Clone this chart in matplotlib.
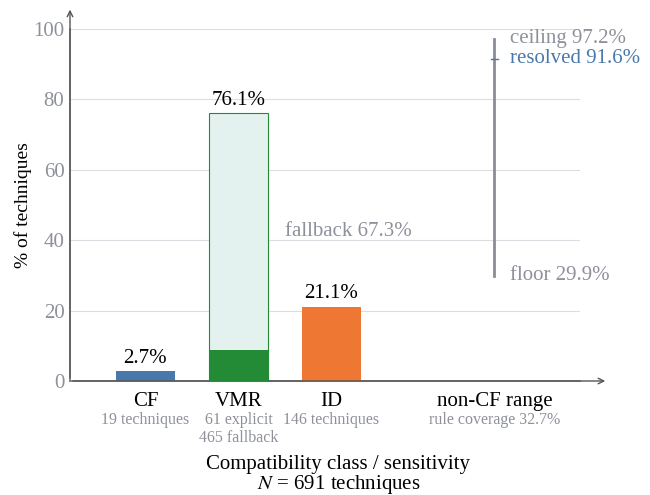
import numpy as np
import matplotlib
matplotlib.use('Agg')
import matplotlib.pyplot as plt

plt.rcParams['font.family'] = ['Liberation Serif', 'DejaVu Serif']
plt.rcParams['mathtext.fontset'] = 'stix'

N = 691
classes = ['CF', 'VMR', 'ID']
counts = [19, 61, 146]
fallback = 465
subs = ['19 techniques', '61 explicit\n465 fallback', '146 techniques']
floor_v, resolved_v, ceiling_v = 29.9, 91.6, 97.2
rule_cov = 32.7

pct = [c / N * 100 for c in counts]
fb_pct = fallback / N * 100
vmr_total = pct[1] + fb_pct

gray_txt = '#8e919b'
blue = '#4a78ab'
green = '#238a35'
orange = '#ee7733'
light = '#e3f2ee'

fig = plt.figure(figsize=(6.5, 4.95), dpi=100)
ax = fig.add_axes([70/650, 114/495, 510/650, 352/495])
ax.set_xlim(-0.81, 4.67)
ax.set_ylim(0, 100)

x = np.arange(3)
w = 0.63
ax.bar(0, pct[0], w, color=blue, zorder=3)
ax.bar(1, vmr_total, w, color=light, edgecolor=green, linewidth=0.8, zorder=3)
ax.bar(1, pct[1], w, color=green, zorder=4)
ax.bar(2, pct[2], w, color=orange, zorder=3)

tops = [pct[0], vmr_total, pct[2]]
for xi, t in zip(x, tops):
    ax.annotate('%.1f%%' % t, (xi, t), xytext=(0, 2.5), textcoords='offset points',
                ha='center', va='bottom', fontsize=15, color='black')

ax.text(1.5, pct[1] + fb_pct / 2, 'fallback %.1f%%' % fb_pct, color=gray_txt,
        fontsize=15, ha='left', va='center')

# non-CF sensitivity range
xr = 3.75
ax.plot([xr, xr], [floor_v, ceiling_v], color='#8a8d99', lw=2, zorder=3)
ax.plot([xr - 0.04, xr + 0.04], [resolved_v, resolved_v], color=blue, lw=1, zorder=4)
ax.text(xr + 0.17, ceiling_v, 'ceiling %.1f%%' % ceiling_v, color=gray_txt,
        fontsize=15, ha='left', va='center')
ax.text(xr + 0.17, resolved_v, 'resolved %.1f%%' % resolved_v, color=blue,
        fontsize=15, ha='left', va='center')
ax.text(xr + 0.17, floor_v, 'floor %.1f%%' % floor_v, color=gray_txt,
        fontsize=15, ha='left', va='center')

ax.set_yticks([0, 20, 40, 60, 80, 100])
ax.tick_params(axis='y', length=0, labelsize=15, labelcolor=gray_txt, pad=4)
ax.set_xticks([])
ax.grid(axis='y', color='#dcdde3', lw=0.8, zorder=0)
ax.set_axisbelow(True)
for s in ['top', 'right']:
    ax.spines[s].set_visible(False)
for s in ['left', 'bottom']:
    ax.spines[s].set_color('#777777')
    ax.spines[s].set_linewidth(1.2)

# axis arrows
ax.annotate('', xy=(1.055, 0), xytext=(0, 0), xycoords='axes fraction',
            arrowprops=dict(arrowstyle='->', color='#555555', lw=1.0), annotation_clip=False)
ax.annotate('', xy=(0, 1.063), xytext=(0, 0), xycoords='axes fraction',
            arrowprops=dict(arrowstyle='->', color='#555555', lw=1.0), annotation_clip=False)

trans = ax.get_xaxis_transform()
for xi, name, sub in zip(x, classes, subs):
    ax.text(xi, -0.057, name, transform=trans, ha='center', va='center', fontsize=15)
    ax.text(xi, -0.088, sub, transform=trans, ha='center', va='top', fontsize=11.5,
            color=gray_txt, linespacing=1.15)
ax.text(xr, -0.057, 'non-CF range', transform=trans, ha='center', va='center', fontsize=15)
ax.text(xr, -0.088, 'rule coverage %.1f%%' % rule_cov, transform=trans, ha='center',
        va='top', fontsize=11.5, color=gray_txt)

ax.set_ylabel('% of techniques', fontsize=14, labelpad=1)
fig.text(338/650, 31/495, 'Compatibility class / sensitivity',
         ha='center', va='center', fontsize=15)
fig.text(339/650, 10.5/495, r'$N$ = 691 techniques',
         ha='center', va='center', fontsize=15)

fig.savefig('out.png', dpi=100)
